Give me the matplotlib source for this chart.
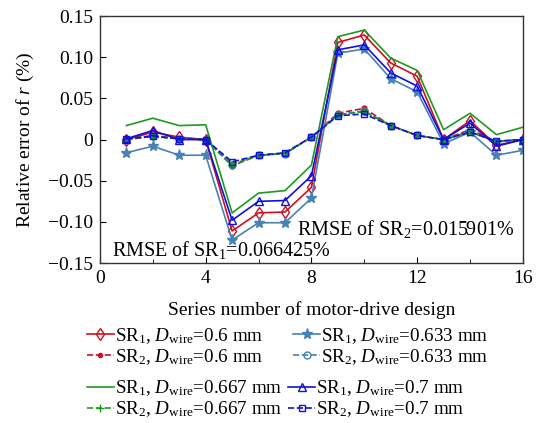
import matplotlib
matplotlib.use("Agg")
import matplotlib.pyplot as plt
from matplotlib.lines import Line2D
from matplotlib.ticker import MultipleLocator

plt.rcParams['font.family'] = ['Liberation Serif', 'DejaVu Serif']
plt.rcParams['mathtext.fontset'] = 'custom'
plt.rcParams['mathtext.rm'] = 'Liberation Serif'
plt.rcParams['mathtext.it'] = 'Liberation Serif:italic'

x = list(range(1, 17))

sr1_060 = [0.000, 0.009, 0.003, 0.000, -0.111, -0.089, -0.088, -0.058, 0.118, 0.127, 0.093, 0.077, 0.000, 0.023, -0.007, 0.000]
sr2_060 = [0.000, 0.005, 0.001, 0.000, -0.032, -0.019, -0.017, 0.003, 0.032, 0.038, 0.017, 0.005, 0.000, 0.012, -0.002, 0.000]
sr1_0633 = [-0.016, -0.008, -0.019, -0.019, -0.122, -0.101, -0.101, -0.071, 0.105, 0.110, 0.074, 0.058, -0.005, 0.009, -0.019, -0.013]
sr2_0633 = [0.000, 0.004, 0.001, 0.000, -0.031, -0.019, -0.017, 0.003, 0.030, 0.035, 0.017, 0.005, 0.000, 0.010, -0.003, 0.000]
sr1_0667 = [0.017, 0.026, 0.017, 0.018, -0.089, -0.065, -0.062, -0.031, 0.125, 0.133, 0.099, 0.084, 0.012, 0.032, 0.006, 0.015]
sr2_0667 = [0.000, 0.004, 0.001, 0.000, -0.030, -0.019, -0.017, 0.003, 0.030, 0.034, 0.017, 0.005, 0.000, 0.009, -0.002, 0.000]
sr1_070 = [0.001, 0.011, 0.000, 0.000, -0.098, -0.075, -0.074, -0.044, 0.109, 0.115, 0.081, 0.065, 0.000, 0.020, -0.008, 0.000]
sr2_070 = [0.001, 0.004, 0.001, 0.000, -0.027, -0.019, -0.016, 0.003, 0.029, 0.031, 0.017, 0.005, 0.000, 0.009, -0.002, 0.000]

x_ticks = [0, 4, 8, 12, 16]
y_ticks = [-0.15, -0.10, -0.05, 0, 0.05, 0.10, 0.15]
y_tick_labels = ['\u22120.15', '\u22120.10', '\u22120.05', '0', '0.05', '0.10', '0.15']

red = '#cc1020'
steel = '#4682b4'
green = '#1f9a1f'
blue = '#1010dd'

fig = plt.figure(figsize=(5.43, 4.23), dpi=100)
ax = fig.add_axes([0.184, 0.378, 0.779, 0.584])

lw = 1.2
lab = [r'SR$_1$, $D_{\rm wire}$=0.6 mm', r'SR$_2$, $D_{\rm wire}$=0.6 mm',
       r'SR$_1$, $D_{\rm wire}$=0.633 mm', r'SR$_2$, $D_{\rm wire}$=0.633 mm',
       r'SR$_1$, $D_{\rm wire}$=0.667 mm', r'SR$_2$, $D_{\rm wire}$=0.667 mm',
       r'SR$_1$, $D_{\rm wire}$=0.7 mm', r'SR$_2$, $D_{\rm wire}$=0.7 mm']

h1 = ax.plot(x, sr1_060, '-', color=red, lw=lw, marker='d', mfc='none', ms=6)[0]
ax.plot(x, sr2_060, '--', color=red, lw=lw, marker='o', mfc=red, ms=3.5)
h3 = ax.plot(x, sr1_0633, '-', color=steel, lw=lw, marker='*', ms=8)[0]
ax.plot(x, sr2_0633, '--', color=steel, lw=lw, marker='o', mfc='none', ms=5)
h5 = ax.plot(x, sr1_0667, '-', color=green, lw=lw)[0]
ax.plot(x, sr2_0667, '--', color=green, lw=lw, marker='o', ms=3.5, mfc=green)
h7 = ax.plot(x, sr1_070, '-', color=blue, lw=lw, marker='^', mfc='none', ms=6)[0]
ax.plot(x, sr2_070, '--', color=blue, lw=lw, marker='s', mfc='none', ms=5)

ax.set_xlim(0, 16)
ax.set_ylim(-0.15, 0.15)
ax.set_xticks(x_ticks)
ax.xaxis.set_minor_locator(MultipleLocator(2))
ax.set_yticks(y_ticks)
ax.set_yticklabels(y_tick_labels)
ax.tick_params(which='both', direction='in', labelsize=14, top=False, right=False)
ax.tick_params(which='major', length=4, pad=5)
ax.tick_params(which='minor', length=3)
for s in ax.spines.values():
    s.set_linewidth(1.0)
    s.set_color('#333333')

ax.set_xlabel('Series number of motor-drive design', fontsize=14, va='center', ha='center')
ax.xaxis.set_label_coords(0.5, -0.19)
ax.set_ylabel(r'Relative error of $r$ (%)', fontsize=14, va='center', ha='center')
ax.yaxis.set_label_coords(-0.177, 0.5)

ax.text(7.45, -0.108, r'RMSE of SR$_2$=0.015901%', fontsize=14.5, ha='left', va='center')
ax.text(0.45, -0.134, r'RMSE of SR$_1$=0.066425%', fontsize=14.5, ha='left', va='center')

h2_leg = Line2D([], [], ls='--', color=red, lw=lw, marker='o', mfc=red, ms=3)
h4_leg = Line2D([], [], ls='--', color=steel, lw=lw, marker='o', mfc='none', ms=5)
h6_leg = Line2D([], [], ls='--', color=green, lw=lw, marker='+', ms=6)
h8_leg = Line2D([], [], ls='--', color=blue, lw=lw, marker='s', mfc='none', ms=4)

common = dict(frameon=False, fontsize=13.7, handlelength=1.4, handletextpad=0.08,
              labelspacing=0.08, borderaxespad=0, borderpad=0, loc='center left')
fig.legend([h1, h2_leg], lab[0:2], bbox_to_anchor=(0.160, 0.181), **common)
fig.legend([h3, h4_leg], lab[2:4], bbox_to_anchor=(0.540, 0.181), **common)
fig.legend([h5, h6_leg], lab[4:6], bbox_to_anchor=(0.160, 0.057), **common)
fig.legend([h7, h8_leg], lab[6:8], bbox_to_anchor=(0.531, 0.057), **common)

fig.savefig('out.png', dpi=100)
